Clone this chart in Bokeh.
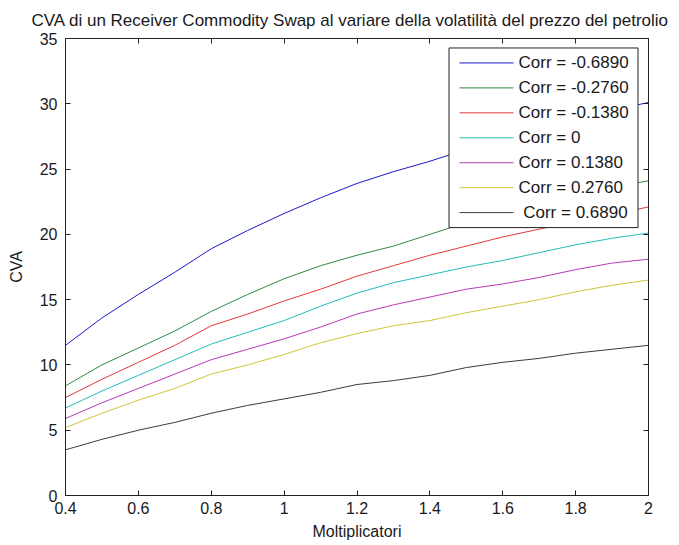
from bokeh.plotting import figure
from bokeh.models import Range1d, FixedTicker, LinearAxis, CustomJSTickFormatter
from bokeh.core.properties import value
from bokeh.embed import file_html
from bokeh.resources import INLINE

# Multipliers applied to the oil price volatility
moltiplicatori = [0.4, 0.5, 0.6, 0.7, 0.8, 0.9, 1.0, 1.1, 1.2, 1.3, 1.4,
                  1.5, 1.6, 1.7, 1.8, 1.9, 2.0]

# CVA for each correlation level
cva_m06890 = [11.5, 13.6, 15.4, 17.1, 18.9, 20.3, 21.6, 22.8, 23.9, 24.8, 25.6,
              26.5, 27.3, 28.1, 28.8, 29.5, 30.1]
cva_m02760 = [8.4, 10.0, 11.3, 12.6, 14.1, 15.4, 16.6, 17.6, 18.4, 19.1, 20.0,
              20.9, 21.7, 22.4, 23.0, 23.6, 24.1]
cva_m01380 = [7.5, 8.9, 10.2, 11.5, 13.0, 13.9, 14.9, 15.8, 16.8, 17.6, 18.4,
              19.1, 19.8, 20.4, 21.0, 21.5, 22.1]
cva_0 = [6.7, 8.0, 9.2, 10.4, 11.6, 12.5, 13.4, 14.5, 15.5, 16.3, 16.9,
         17.5, 18.0, 18.6, 19.2, 19.7, 20.1]
cva_p01380 = [5.9, 7.1, 8.2, 9.3, 10.4, 11.2, 12.0, 12.9, 13.9, 14.6, 15.2,
              15.8, 16.2, 16.7, 17.3, 17.8, 18.1]
cva_p02760 = [5.2, 6.3, 7.3, 8.2, 9.3, 10.0, 10.8, 11.7, 12.4, 13.0, 13.4,
              14.0, 14.5, 15.0, 15.6, 16.1, 16.5]
cva_p06890 = [3.5, 4.3, 5.0, 5.6, 6.3, 6.9, 7.4, 7.9, 8.5, 8.8, 9.2,
              9.8, 10.2, 10.5, 10.9, 11.2, 11.5]

series = [cva_m06890, cva_m02760, cva_m01380, cva_0, cva_p01380, cva_p02760, cva_p06890]
labels = ["Corr = -0.6890", "Corr = -0.2760", "Corr = -0.1380", "Corr = 0",
          "Corr = 0.1380", "Corr = 0.2760", "\u00a0Corr = 0.6890"]
colors = ["#1a1ac8", "#2f8a40", "#e03a3a", "#22bcbc", "#b83ab8", "#cfc43a", "#3c3c3c"]

x_ticks = [0.4, 0.6, 0.8, 1.0, 1.2, 1.4, 1.6, 1.8, 2.0]
x_tick_labels = ["0.4", "0.6", "0.8", "1", "1.2", "1.4", "1.6", "1.8", "2"]
y_ticks = [0, 5, 10, 15, 20, 25, 30, 35]

FONT = "Liberation Sans"
TXT = "#1a1a1a"
EDGE = "#222222"

W, H = 679, 545
BL, BR, BT, BB = 65, 31, 37, 50          # borders around the plot box, px
X0, X1, Y0, Y1 = 0.4, 2.0, 0.0, 35.0

p = figure(width=W, height=H, output_backend="svg", toolbar_location=None,
           x_range=Range1d(X0, X1), y_range=Range1d(Y0, Y1),
           min_border_left=BL, min_border_right=BR,
           min_border_top=BT, min_border_bottom=BB,
           background_fill_color="white", border_fill_color="white")

p.title.text = "CVA di un Receiver Commodity Swap al variare della volatilità del prezzo del petrolio"
p.title.text_font = FONT
p.title.text_font_size = "17px"
p.title.text_font_style = "normal"
p.title.text_color = TXT
p.title.align = "left"
p.title.offset = -34
p.title.standoff = 17

p.grid.visible = False
p.outline_line_color = EDGE
p.outline_line_width = 1

def style_axis(ax):
    ax.axis_line_color = EDGE
    ax.major_tick_line_color = EDGE
    ax.major_tick_in = 5
    ax.major_tick_out = 0
    ax.minor_tick_in = 0
    ax.minor_tick_out = 0
    ax.major_label_text_font = FONT
    ax.major_label_text_font_size = "16px"
    ax.major_label_text_color = TXT
    ax.axis_label_text_font = FONT
    ax.axis_label_text_font_size = "16px"
    ax.axis_label_text_font_style = "normal"
    ax.axis_label_text_color = TXT

xa = p.xaxis[0]
ya = p.yaxis[0]
xa.ticker = FixedTicker(ticks=x_ticks)
xa.major_label_overrides = {t: s for t, s in zip(x_ticks, x_tick_labels)}
xa.axis_label = "Moltiplicatori"
xa.major_label_standoff = 6
xa.axis_label_standoff = 6
ya.ticker = FixedTicker(ticks=y_ticks)
ya.axis_label = "CVA"
ya.major_label_standoff = 8
ya.axis_label_standoff = 12
style_axis(xa)
style_axis(ya)

# Mirrored tick marks on the top and right edges of the box
blank = CustomJSTickFormatter(code="return ''")
top = LinearAxis(ticker=FixedTicker(ticks=x_ticks), formatter=blank)
right = LinearAxis(ticker=FixedTicker(ticks=y_ticks), formatter=blank)
for ax in (top, right):
    style_axis(ax)
    ax.major_label_standoff = 0
p.add_layout(top, "above")
p.add_layout(right, "right")

for ys, col in zip(series, colors):
    p.line(moltiplicatori, ys, line_color=col, line_width=1)

# Legend box in the upper right corner, laid out in pixels of the canvas
def fx(px):
    return X0 + (px - BL) * (X1 - X0) / (W - BL - BR)

def fy(py):
    return Y1 - (py - BT) * (Y1 - Y0) / (H - BT - BB)

box_l, box_r, box_t, box_b = 448.5, 637.5, 46.5, 226.5
row_top, row_step = 61.5, 25
key_l, key_r, text_l = 459, 513, 518

p.quad(left=[fx(box_l)], right=[fx(box_r)], top=[fy(box_t)], bottom=[fy(box_b)],
       fill_color="white", line_color=EDGE, line_width=1)
rows = [fy(row_top + i * row_step) for i in range(len(labels))]
p.segment(x0=[fx(key_l)] * len(rows), x1=[fx(key_r)] * len(rows),
          y0=rows, y1=rows, line_color=colors, line_width=1)
p.text(x=[fx(text_l)] * len(rows), y=rows, text=labels,
       text_font=value(FONT), text_font_size="17px", text_color=TXT,
       text_baseline="middle", text_align="left")

open("out.html", "w").write(file_html(p, INLINE))
